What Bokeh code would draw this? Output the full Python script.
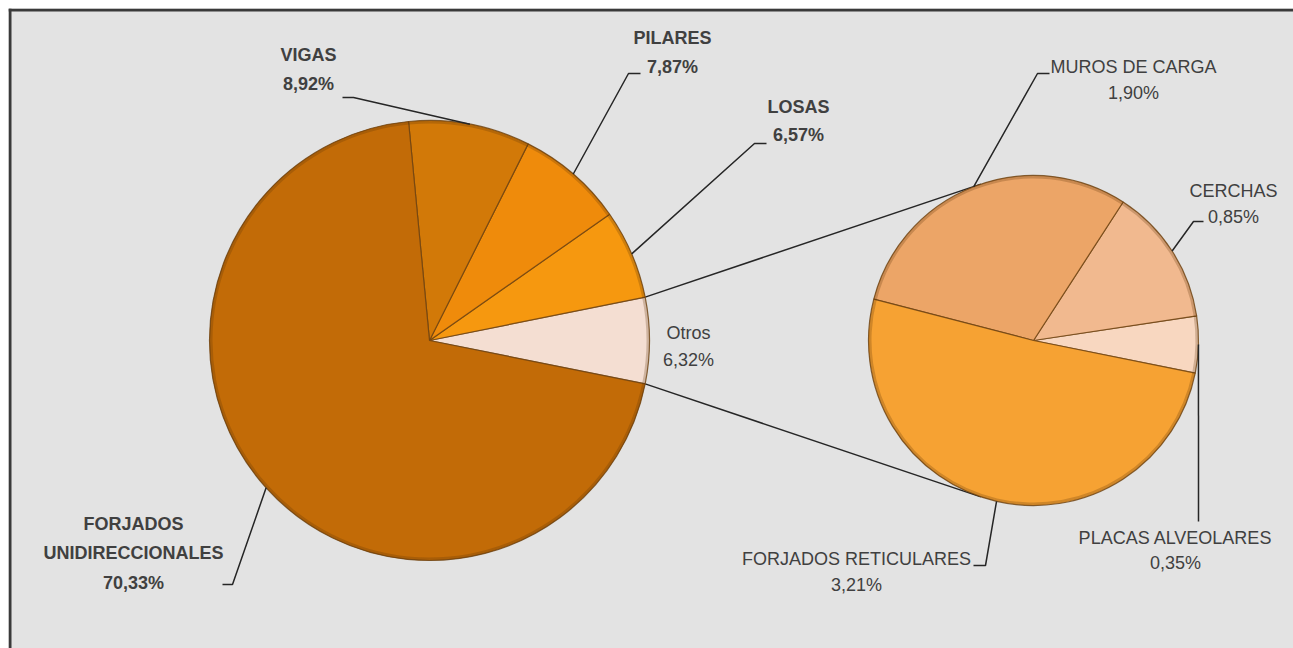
import math
from bokeh.plotting import figure
from bokeh.models import Range1d, ColumnDataSource
from bokeh.core.properties import value
from bokeh.embed import file_html
from bokeh.resources import INLINE

# ---------------- data ----------------
main_labels = ["Otros", "LOSAS", "PILARES", "VIGAS", "FORJADOS UNIDIRECCIONALES"]
main_values = [6.32, 6.57, 7.87, 8.92, 70.33]
main_colors = ["#f4ded2", "#f6980f", "#ef8b0b", "#d27908", "#c26b07"]

sub_labels = ["PLACAS ALVEOLARES", "CERCHAS", "MUROS DE CARGA", "FORJADOS RETICULARES"]
sub_values = [0.35, 0.85, 1.90, 3.21]
sub_colors = ["#f8d7c0", "#f1b98f", "#eca567", "#f6a233"]

# ---------------- layout (screen px) ----------------
OFF = 8                 # white strip left / top, as in the reference
FW, FH = 1285, 640      # gray chart area
FONT = "Liberation Sans"
FSIZE = "18px"
TXT = "#404040"


def S(X, Y):
    """screen pixel -> data coordinates (y up)"""
    return X - OFF, (OFF + FH) - Y


C1, R1 = S(429, 340), 220
C2, R2 = S(1033, 340), 165

# label layout: (center, line spacing, bold, name lines, leader elbow, leader end)
main_layout = {
    "Otros": ((688, 332), 27, False, ["Otros"], None, None),
    "LOSAS": ((798, 106), 28.5, True, ["LOSAS"], (754, 143), (766, 143)),
    "PILARES": ((672, 37), 29, True, ["PILARES"], (628, 73), (640, 73)),
    "VIGAS": ((308, 54.5), 28.5, True, ["VIGAS"], (353, 97), (342, 97)),
    "FORJADOS UNIDIRECCIONALES": ((133, 523), 29.5, True, ["FORJADOS", "UNIDIRECCIONALES"],
                                  (232, 584), (222, 584)),
}
sub_layout = {
    "PLACAS ALVEOLARES": ((1175, 537), 25, False, ["PLACAS ALVEOLARES"], (1198, 521), (1198, 521)),
    "CERCHAS": ((1233, 190), 26, False, ["CERCHAS"], (1193, 221), (1203, 221)),
    "MUROS DE CARGA": ((1133, 66.5), 26, False, ["MUROS DE CARGA"], (1037, 73), (1049, 73)),
    "FORJADOS RETICULARES": ((856, 558), 26, False, ["FORJADOS RETICULARES"], (985, 565), (973, 565)),
}


def pct(v):
    return f"{v:.2f}".replace(".", ",") + "%"


def angles(vals, start):
    tot = sum(vals)
    st, en = [], []
    a = start
    for v in vals:
        st.append(a)
        a += 2 * math.pi * v / tot
        en.append(a)
    return st, en


start0 = -math.pi * main_values[0] / sum(main_values)
m_st, m_en = angles(main_values, start0)
s_st, s_en = angles(sub_values, start0)

p = figure(width=FW + OFF, height=FH + OFF, output_backend="svg", toolbar_location=None,
           x_range=Range1d(0, FW), y_range=Range1d(0, FH),
           min_border_left=OFF, min_border_top=OFF, min_border_right=0, min_border_bottom=0,
           background_fill_color="#e3e3e3", border_fill_color="white")
p.xaxis.visible = False
p.yaxis.visible = False
p.grid.visible = False
p.outline_line_color = None

# frame lines (top & left)
p.segment(x0=[0, 1.5], y0=[FH - 1.5, 0], x1=[FW, 1.5], y1=[FH - 1.5, FH],
          line_color="#3a3a3a", line_width=3)

# connectors from "Otros" slice to secondary pie (tangent lines)
for ang, sgn in ((m_en[0], -1), (m_st[0], 1)):
    px, py = C1[0] + R1 * math.cos(ang), C1[1] + R1 * math.sin(ang)
    vx, vy = px - C2[0], py - C2[1]
    d = math.hypot(vx, vy)
    phi = math.atan2(vy, vx)
    t = phi + sgn * math.acos(R2 / d)
    p.line([px, C2[0] + R2 * math.cos(t)], [py, C2[1] + R2 * math.sin(t)],
           line_color="#262626", line_width=1.5)

# pies
for (cx, cy), r, st, en, cols in ((C1, R1, m_st, m_en, main_colors),
                                  (C2, R2, s_st, s_en, sub_colors)):
    src = ColumnDataSource(dict(s=st, e=en, c=cols))
    p.wedge(x=cx, y=cy, radius=r, start_angle="s", end_angle="e", fill_color="c",
            line_color="#6e4210", line_alpha=0.8, line_width=1.2, source=src)
    # bevel: dark outer edge
    p.annular_wedge(x=cx, y=cy, inner_radius=r - 3, outer_radius=r,
                    start_angle="s", end_angle="e", fill_color="#5a3208", fill_alpha=0.25,
                    line_color=None, source=src)

# leaders and labels
for labels, vals, st, en, (cx, cy), r, lay in (
        (main_labels, main_values, m_st, m_en, C1, R1, main_layout),
        (sub_labels, sub_values, s_st, s_en, C2, R2, sub_layout)):
    for name, v, a0, a1 in zip(labels, vals, st, en):
        (tx, ty), sp, bold, lines, elbow, end = lay[name]
        if elbow is not None:
            mid = (a0 + a1) / 2
            ax, ay = cx + r * math.cos(mid), cy + r * math.sin(mid)
            ex, ey = S(*elbow)
            nx, ny = S(*end)
            p.line([ax, ex, nx], [ay, ey, ny], line_color="#262626", line_width=1.5)
        texts = lines + [pct(v)]
        xs, ys = [], []
        for i, _ in enumerate(texts):
            x, y = S(tx, ty + i * sp)
            xs.append(x)
            ys.append(y)
        p.text(x=xs, y=ys, text=texts, text_align="center", text_baseline="middle",
               text_font=value(FONT), text_font_size=FSIZE,
               text_font_style="bold" if bold else "normal", text_color=TXT)

open("out.html", "w").write(file_html(p, INLINE))
